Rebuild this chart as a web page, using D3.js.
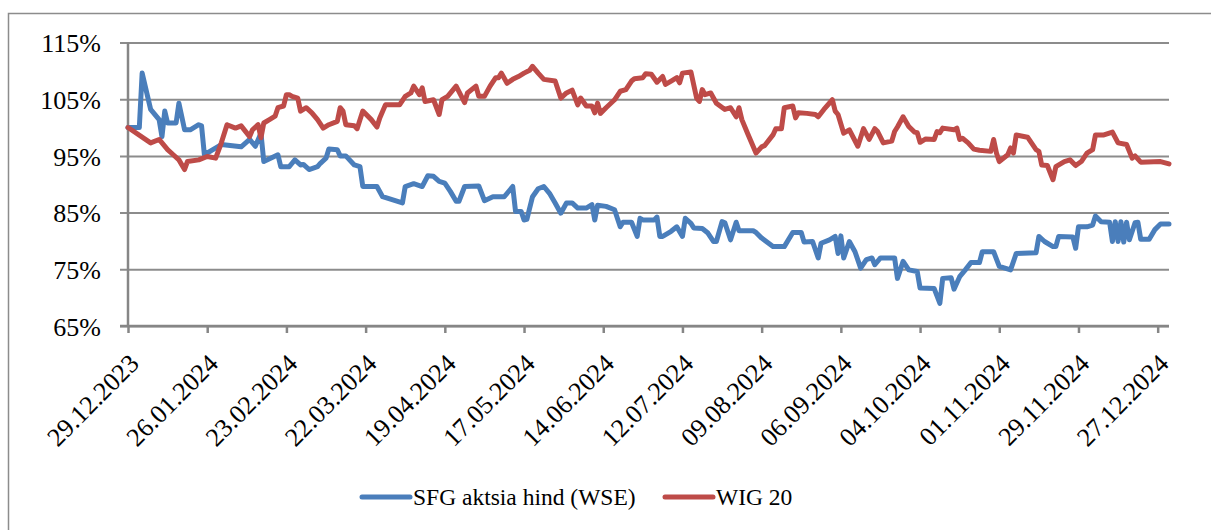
<!DOCTYPE html>
<html>
<head>
<meta charset="utf-8">
<script src="https://cdn.jsdelivr.net/npm/d3@7"></script>
<style>
  html, body { margin: 0; padding: 0; background: #fff; }
  svg { display: block; }
  text { font-family: "Liberation Serif", "Times New Roman", serif; fill: #000; }
</style>
</head>
<body>
<svg id="chart" width="1211" height="530"></svg>
<script>
// SFG share price vs WIG 20, indexed to 100% on 29.12.2023
const sfgDates = [
  "29.12.2023","02.01.2024","03.01.2024","06.01.2024","09.01.2024","10.01.2024","11.01.2024","12.01.2024",
  "15.01.2024","16.01.2024","18.01.2024","20.01.2024","23.01.2024","24.01.2024","25.01.2024","28.01.2024",
  "31.01.2024","07.02.2024","10.02.2024","12.02.2024","14.02.2024","15.02.2024","20.02.2024","21.02.2024",
  "24.02.2024","25.02.2024","26.02.2024","28.02.2024","29.02.2024","02.03.2024","05.03.2024","06.03.2024",
  "08.03.2024","09.03.2024","12.03.2024","13.03.2024","15.03.2024","18.03.2024","20.03.2024","21.03.2024",
  "26.03.2024","28.03.2024","04.04.2024","05.04.2024","08.04.2024","11.04.2024","13.04.2024","15.04.2024",
  "17.04.2024","19.04.2024","21.04.2024","23.04.2024","24.04.2024","26.04.2024","01.05.2024","03.05.2024",
  "06.05.2024","10.05.2024","13.05.2024","14.05.2024","16.05.2024","17.05.2024","18.05.2024","20.05.2024",
  "22.05.2024","24.05.2024","26.05.2024","28.05.2024","30.05.2024","01.06.2024","03.06.2024","05.06.2024",
  "08.06.2024","10.06.2024","11.06.2024","12.06.2024","15.06.2024","18.06.2024","20.06.2024","21.06.2024",
  "24.06.2024","26.06.2024","27.06.2024","28.06.2024","02.07.2024","03.07.2024","04.07.2024","05.07.2024",
  "08.07.2024","10.07.2024","12.07.2024","13.07.2024","15.07.2024","16.07.2024","19.07.2024","21.07.2024",
  "23.07.2024","24.07.2024","26.07.2024","27.07.2024","29.07.2024","31.07.2024","01.08.2024","06.08.2024",
  "07.08.2024","09.08.2024","13.08.2024","17.08.2024","20.08.2024","23.08.2024","24.08.2024","27.08.2024",
  "29.08.2024","30.08.2024","02.09.2024","04.09.2024","05.09.2024","06.09.2024","07.09.2024","09.09.2024",
  "11.09.2024","13.09.2024","15.09.2024","17.09.2024","18.09.2024","20.09.2024","25.09.2024","26.09.2024",
  "28.09.2024","30.09.2024","03.10.2024","04.10.2024","09.10.2024","11.10.2024","12.10.2024","15.10.2024",
  "16.10.2024","17.10.2024","18.10.2024","20.10.2024","22.10.2024","25.10.2024","26.10.2024","30.10.2024",
  "01.11.2024","05.11.2024","07.11.2024","14.11.2024","15.11.2024","17.11.2024","20.11.2024","21.11.2024",
  "22.11.2024","27.11.2024","28.11.2024","29.11.2024","02.12.2024","04.12.2024","05.12.2024","07.12.2024",
  "10.12.2024","11.12.2024","12.12.2024","13.12.2024","14.12.2024","15.12.2024","16.12.2024","17.12.2024",
  "19.12.2024","20.12.2024","21.12.2024","24.12.2024","26.12.2024","28.12.2024","31.12.2024"
];
const sfgValues = [
  100, 100, 109.6, 103.2, 101.4, 98.4, 102.9, 100.8,
  100.8, 104.3, 99.6, 99.6, 100.5, 100.3, 95.2, 96.1,
  97, 96.6, 97.9, 96.7, 99, 94, 95.2, 93.1,
  93.1, 93.7, 94.3, 93.4, 93.5, 92.6, 93.1, 93.7,
  94.6, 96.2, 96.1, 95, 95, 93.4, 93.1, 89.6,
  89.6, 87.8, 86.7, 89.6, 90.1, 89.6, 91.5, 91.4,
  90.5, 90.2, 88.7, 87, 87, 89.6, 89.7, 87.1,
  87.8, 87.8, 89.6, 85.2, 85.2, 83.7, 83.8, 87.8,
  89.2, 89.6, 88.4, 86.7, 84.9, 86.7, 86.7, 85.8,
  85.8, 86.4, 83.7, 86.3, 86.1, 85.5, 82.5, 83.3,
  83.3, 80.8, 84, 83.7, 83.7, 84.2, 80.8, 80.8,
  81.7, 82.5, 80.8, 84, 83.1, 82.3, 82.2, 81.4,
  79.9, 79.9, 83.4, 83.2, 80.2, 83.3, 81.8, 81.8,
  81.5, 80.5, 79, 79, 81.5, 81.5, 79.8, 79.9,
  77, 79.6, 80.2, 80.8, 77.8, 80.9, 77, 79.9,
  78.1, 75.2, 76.7, 77, 75.8, 77, 77, 73.4,
  76.4, 74.9, 74.6, 71.7, 71.6, 69, 73.4, 73.5,
  71.5, 72.6, 73.7, 74.9, 76.2, 76.2, 78.1, 78.1,
  75.5, 74.9, 77.8, 77.9, 80.8, 79.9, 79, 79,
  80.8, 80.7, 78.7, 82.5, 82.5, 82.8, 84.4, 83.4,
  83.3, 79.9, 83.4, 79.9, 83.4, 79.8, 83.3, 80.2,
  83.2, 83.3, 80.3, 80.3, 82, 83, 83
];

const wigDates = [
  "29.12.2023","06.01.2024","09.01.2024","12.01.2024","14.01.2024","16.01.2024","18.01.2024","19.01.2024",
  "23.01.2024","26.01.2024","29.01.2024","31.01.2024","02.02.2024","05.02.2024","07.02.2024","10.02.2024",
  "11.02.2024","13.02.2024","14.02.2024","15.02.2024","17.02.2024","19.02.2024","20.02.2024","22.02.2024",
  "23.02.2024","24.02.2024","25.02.2024","27.02.2024","28.02.2024","01.03.2024","03.03.2024","05.03.2024",
  "07.03.2024","09.03.2024","12.03.2024","13.03.2024","14.03.2024","15.03.2024","18.03.2024","19.03.2024",
  "21.03.2024","24.03.2024","26.03.2024","27.03.2024","29.03.2024","03.04.2024","05.04.2024","07.04.2024",
  "08.04.2024","10.04.2024","11.04.2024","12.04.2024","15.04.2024","17.04.2024","18.04.2024","20.04.2024",
  "23.04.2024","26.04.2024","27.04.2024","30.04.2024","01.05.2024","03.05.2024","05.05.2024","07.05.2024",
  "08.05.2024","09.05.2024","11.05.2024","13.05.2024","15.05.2024","17.05.2024","19.05.2024","20.05.2024",
  "22.05.2024","24.05.2024","28.05.2024","30.05.2024","01.06.2024","03.06.2024","05.06.2024","06.06.2024",
  "08.06.2024","10.06.2024","11.06.2024","12.06.2024","13.06.2024","15.06.2024","18.06.2024","20.06.2024",
  "22.06.2024","24.06.2024","25.06.2024","28.06.2024","29.06.2024","01.07.2024","03.07.2024","05.07.2024",
  "06.07.2024","08.07.2024","10.07.2024","11.07.2024","12.07.2024","15.07.2024","17.07.2024","18.07.2024",
  "19.07.2024","20.07.2024","22.07.2024","24.07.2024","27.07.2024","29.07.2024","31.07.2024","01.08.2024",
  "02.08.2024","04.08.2024","07.08.2024","09.08.2024","10.08.2024","13.08.2024","14.08.2024","16.08.2024",
  "17.08.2024","20.08.2024","21.08.2024","22.08.2024","25.08.2024","28.08.2024","29.08.2024","31.08.2024",
  "03.09.2024","04.09.2024","05.09.2024","07.09.2024","09.09.2024","12.09.2024","14.09.2024","16.09.2024",
  "18.09.2024","19.09.2024","21.09.2024","24.09.2024","25.09.2024","26.09.2024","28.09.2024","30.09.2024",
  "02.10.2024","03.10.2024","04.10.2024","06.10.2024","09.10.2024","10.10.2024","11.10.2024","12.10.2024",
  "16.10.2024","17.10.2024","18.10.2024","19.10.2024","21.10.2024","23.10.2024","25.10.2024","29.10.2024",
  "30.10.2024","31.10.2024","01.11.2024","04.11.2024","05.11.2024","06.11.2024","07.11.2024","11.11.2024",
  "14.11.2024","15.11.2024","16.11.2024","18.11.2024","20.11.2024","21.11.2024","24.11.2024","26.11.2024",
  "28.11.2024","30.11.2024","02.12.2024","04.12.2024","05.12.2024","08.12.2024","11.12.2024","13.12.2024",
  "16.12.2024","18.12.2024","19.12.2024","21.12.2024","28.12.2024","31.12.2024"
];
const wigValues = [
  100, 97.3, 97.9, 96.1, 95.2, 94.3, 92.6, 94,
  94.3, 94.9, 94.6, 97.3, 100.5, 99.9, 100.3, 98.4,
  99.6, 100.5, 98.2, 100.8, 101.4, 102, 103.5, 103.8,
  105.8, 105.8, 105.5, 105.2, 102.9, 103.5, 102.6, 101.4,
  99.9, 100.5, 101.1, 103.5, 102.9, 100.5, 100.3, 99.8,
  102.9, 101.4, 100.1, 101.7, 104, 104, 105.5, 106.1,
  107.3, 105.8, 107, 104.6, 104.9, 102.3, 104.9, 105.5,
  107.3, 104.4, 106.1, 107.3, 105.5, 105.5, 107.3, 108.8,
  108.8, 109.6, 107.8, 108.5, 109, 109.6, 110.1, 110.8,
  109.6, 108.5, 108.2, 105.2, 106.1, 106.6, 104, 105.2,
  103.8, 103.8, 102.6, 104.3, 102.5, 103.5, 104.9, 106.4,
  106.7, 108.2, 108.6, 108.8, 109.5, 109.4, 108, 109,
  107.6, 108.2, 108.8, 107.9, 109.6, 109.8, 105.2, 104.6,
  106.7, 105.8, 106.1, 104.3, 103.2, 103.5, 101.9, 103.5,
  101.4, 99, 95.5, 96.6, 96.8, 98.7, 99.8, 99.8,
  103.5, 103.8, 101.7, 102.6, 102.5, 102.3, 101.9, 103.2,
  104.9, 102.9, 102.3, 99, 99.6, 96.7, 99.8, 97.9,
  99.8, 99.3, 97.3, 97.6, 99.3, 100.1, 101.9, 100.2,
  99.2, 99.1, 97.4, 98, 97.9, 99.3, 99.1, 99.9,
  99.6, 99.9, 97.9, 98.1, 97.3, 96.2, 96, 95.8,
  97.9, 95.5, 94, 95.2, 96.4, 95.5, 98.7, 98.3,
  96.1, 95.8, 93.4, 93.3, 90.8, 93.1, 94, 94.3,
  93.3, 94, 95.5, 96.1, 98.7, 98.7, 99.2, 97.3,
  97, 94.6, 95, 93.9, 94, 93.6
];

const xTickLabels = [
  "29.12.2023","26.01.2024","23.02.2024","22.03.2024","19.04.2024","17.05.2024","14.06.2024",
  "12.07.2024","09.08.2024","06.09.2024","04.10.2024","01.11.2024","29.11.2024","27.12.2024"
];
const yTicks = [65, 75, 85, 95, 105, 115];

const seriesNames = ["SFG aktsia hind (WSE)", "WIG 20"];
const seriesColors = ["#4a7ebb", "#be4b48"];

const parse = d3.utcParse("%d.%m.%Y");
const series = [
  { name: seriesNames[0], color: seriesColors[0],
    points: sfgDates.map((d, i) => ({ date: parse(d), value: sfgValues[i] })) },
  { name: seriesNames[1], color: seriesColors[1],
    points: wigDates.map((d, i) => ({ date: parse(d), value: wigValues[i] })) }
];

// plot area
const plot = { left: 128, right: 1169, top: 42.5, bottom: 326 };

const x = d3.scaleUtc()
  .domain([parse("29.12.2023"), parse("31.12.2024")])
  .range([plot.left, plot.right]);

const y = d3.scaleLinear()
  .domain([65, 115])
  .range([plot.bottom, plot.top]);

const svg = d3.select("#chart");

// chart frame (only top and left edges are inside the picture)
svg.append("path")
  .attr("d", "M8.5,530 V13.5 H1211")
  .attr("fill", "none")
  .attr("stroke", "#8c8c8c")
  .attr("stroke-width", 1.5);

// horizontal gridlines + y ticks
const yAxis = d3.axisLeft(y)
  .tickValues(yTicks)
  .tickSize(-(plot.right - plot.left))
  .tickFormat(d => d + "%");

const gy = svg.append("g")
  .attr("transform", `translate(${plot.left},0)`)
  .call(yAxis);
gy.select(".domain").remove();
gy.selectAll(".tick line")
  .attr("x1", -8)
  .attr("stroke", "#8c8c8c")
  .attr("stroke-width", 2);
gy.selectAll(".tick text")
  .attr("x", -27)
  .attr("dy", "0.36em")
  .style("font-size", "26px")
  .style("font-family", "'Liberation Serif', serif");

// x axis
const xAxis = d3.axisBottom(x)
  .tickValues(xTickLabels.map(parse))
  .tickSize(7)
  .tickFormat(d3.utcFormat("%d.%m.%Y"));

const gx = svg.append("g")
  .attr("transform", `translate(0,${plot.bottom})`)
  .call(xAxis);
gx.select(".domain").remove();
gx.selectAll(".tick line")
  .attr("stroke", "#868686")
  .attr("stroke-width", 2.5);
gx.selectAll(".tick text")
  .attr("y", 0).attr("dy", 0)
  .attr("transform", "translate(12,39) rotate(-45)")
  .attr("text-anchor", "end")
  .style("font-size", "26px")
  .style("font-family", "'Liberation Serif', serif");

// axis lines
svg.append("line")
  .attr("x1", plot.left).attr("x2", plot.left)
  .attr("y1", plot.top).attr("y2", plot.bottom)
  .attr("stroke", "#868686").attr("stroke-width", 2.5);
svg.append("line")
  .attr("x1", plot.left - 8).attr("x2", plot.right)
  .attr("y1", plot.bottom).attr("y2", plot.bottom)
  .attr("stroke", "#868686").attr("stroke-width", 2.5);

// series lines
const line = d3.line()
  .x(d => x(d.date))
  .y(d => y(d.value));

svg.append("g")
  .selectAll("path")
  .data(series)
  .join("path")
    .attr("d", d => line(d.points))
    .attr("fill", "none")
    .attr("stroke", d => d.color)
    .attr("stroke-width", 5)
    .attr("stroke-linejoin", "round")
    .attr("stroke-linecap", "round");

// legend
const legendItems = [
  { name: seriesNames[0], color: seriesColors[0], x: 362 },
  { name: seriesNames[1], color: seriesColors[1], x: 665 }
];
const legend = svg.append("g")
  .selectAll("g")
  .data(legendItems)
  .join("g")
    .attr("transform", d => `translate(${d.x},497)`);
legend.append("line")
  .attr("x1", 0).attr("x2", 48)
  .attr("stroke", d => d.color)
  .attr("stroke-width", 5)
  .attr("stroke-linecap", "round");
legend.append("text")
  .attr("x", 51)
  .attr("y", 7.5)
  .style("font-size", "23.5px")
  .text(d => d.name);
</script>
</body>
</html>
